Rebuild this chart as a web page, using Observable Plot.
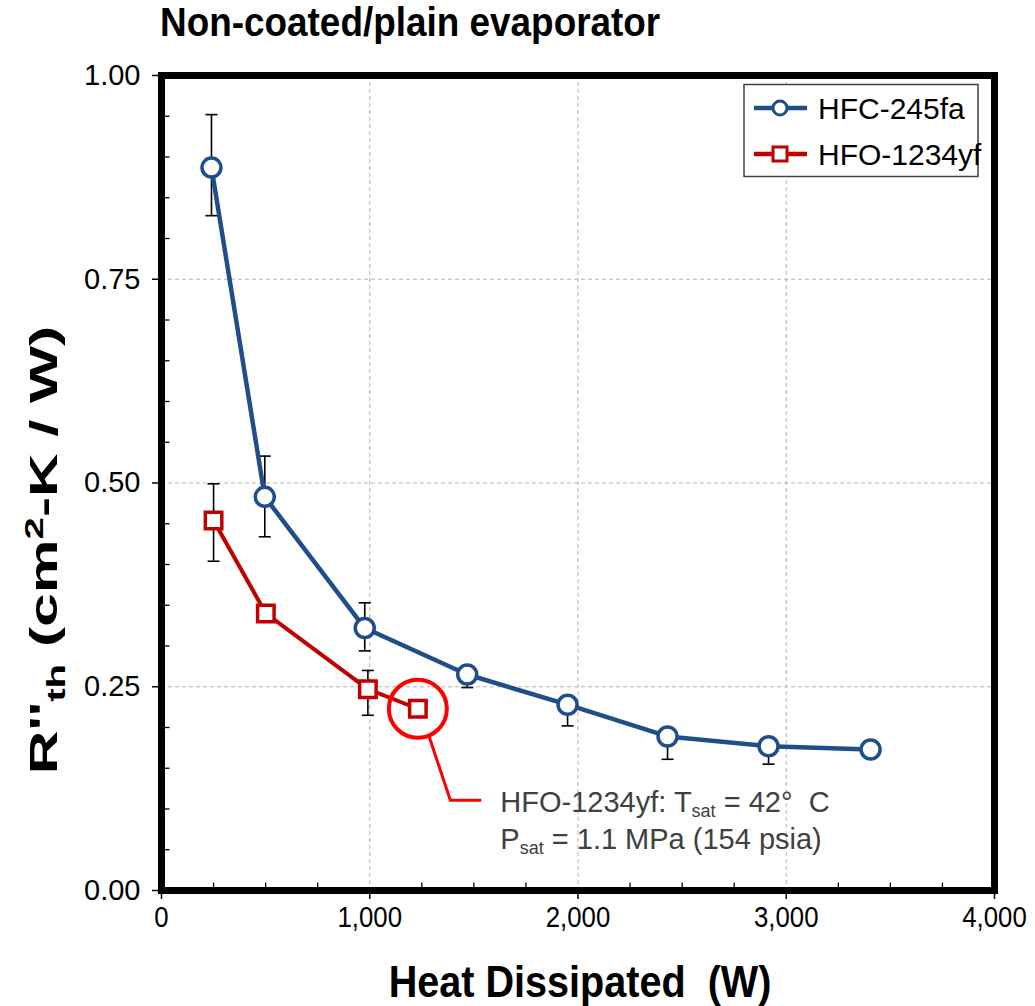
<!DOCTYPE html>
<html><head><meta charset="utf-8">
<script src="https://cdn.jsdelivr.net/npm/d3@7"></script>
<script src="https://cdn.jsdelivr.net/npm/@observablehq/plot@0.6"></script>
<style>
body{margin:0;background:#fff;font-family:"Liberation Sans",Arial,sans-serif;}
#wrap{position:relative;width:1035px;height:1006px;overflow:hidden;}
#chart{position:absolute;left:0;top:0;}
</style></head><body>
<div id="wrap"><div id="chart"></div></div>
<script>
// ---- data ----
const titleText = "Non-coated/plain evaporator";
const xTitle = "Heat Dissipated  (W)";
const seriesNames = ["HFC-245fa", "HFO-1234yf"];
const heat245 = [240, 496, 976, 1468, 1950, 2430, 2915, 3405];
const r245    = [0.887, 0.483, 0.322, 0.265, 0.228, 0.189, 0.177, 0.173];
const r245Lo  = [0.828, 0.434, 0.294, 0.249, 0.202, 0.161, 0.155, null];
const r245Hi  = [0.952, 0.533, 0.353, null, null, null, null, null];
const heat1234 = [250, 501, 991, 1231];
const r1234    = [0.454, 0.340, 0.247, 0.223];
const r1234Lo  = [0.404, null, 0.215, null];
const r1234Hi  = [0.499, null, 0.270, null];
const xTicks = [0, 1000, 2000, 3000, 4000];
const yTicks = [0, 0.25, 0.5, 0.75, 1.0];
const xMinor = [250, 500, 750, 1250, 1500, 1750, 2250, 2500, 2750, 3250, 3500, 3750];
const yMinor = [0.05,0.10,0.15,0.20,0.30,0.35,0.40,0.45,0.55,0.60,0.65,0.70,0.80,0.85,0.90,0.95];
const annoLine1 = ["HFO-1234yf: T", "sat", " = 42°  C"];
const annoLine2 = ["P", "sat", " = 1.1 MPa (154 psia)"];

const BLUE = "#1f4e89", RED = "#c00000";
const rows245 = heat245.map((x, i) => ({x, y: r245[i], lo: r245Lo[i], hi: r245Hi[i]}));
const rows1234 = heat1234.map((x, i) => ({x, y: r1234[i], lo: r1234Lo[i], hi: r1234Hi[i]}));
const allRows = rows245.concat(rows1234);
const errRows = allRows.filter(d => d.lo != null || d.hi != null);
const cap = {draw(ctx) { ctx.moveTo(-6, 0); ctx.lineTo(6, 0); }};
const tickRight = {draw(ctx) { ctx.moveTo(0, 0); ctx.lineTo(8, 0); }};
const tickUp = {draw(ctx) { ctx.moveTo(0, 0); ctx.lineTo(0, -8); }};

const plot = Plot.plot({
  width: 1035, height: 1006,
  marginLeft: 161, marginRight: 41, marginTop: 75, marginBottom: 116,
  style: {fontFamily: '"Liberation Sans", Arial, sans-serif', background: "white", color: "black"},
  x: {domain: [0, 4000], label: null},
  y: {domain: [0, 1], label: null},
  marks: [
    Plot.gridX([1000, 2000, 3000], {stroke: "#b5b5b5", strokeOpacity: 1, strokeWidth: 1, strokeDasharray: "4,3"}),
    Plot.gridY([0.25, 0.5, 0.75], {stroke: "#b5b5b5", strokeOpacity: 1, strokeWidth: 1, strokeDasharray: "4,3"}),
    Plot.ruleX(errRows, {x: "x", y1: d => d.lo ?? d.y, y2: d => d.hi ?? d.y, stroke: "black", strokeWidth: 1.6}),
    Plot.dot(allRows.filter(d => d.lo != null), {x: "x", y: "lo", symbol: cap, stroke: "black", strokeWidth: 1.6, fill: "none", r: 6}),
    Plot.dot(allRows.filter(d => d.hi != null), {x: "x", y: "hi", symbol: cap, stroke: "black", strokeWidth: 1.6, fill: "none", r: 6}),
    Plot.line(rows245, {x: "x", y: "y", stroke: BLUE, strokeWidth: 4.5}),
    Plot.line(rows1234, {x: "x", y: "y", stroke: RED, strokeWidth: 4}),
    Plot.dot(rows245, {x: "x", y: "y", r: 9.5, fill: "white", stroke: BLUE, strokeWidth: 3.5}),
    Plot.dot(rows1234, {x: "x", y: "y", symbol: "square", r: 9.3, fill: "white", stroke: RED, strokeWidth: 3.5}),
    Plot.dot([rows1234[3]], {x: "x", y: "y", r: 29, fill: "none", stroke: "#ff0000", strokeWidth: 4}),
    // inward minor ticks
    Plot.dot(yMinor, {x: 0, y: d => d, symbol: tickRight, stroke: "black", strokeWidth: 1.3, fill: "none"}),
    Plot.dot(xMinor, {x: d => d, y: 0, symbol: tickUp, stroke: "black", strokeWidth: 1.3, fill: "none"}),
    Plot.axisY(yTicks, {tickSize: 9, tickPadding: 12, tickFormat: d3.format(".2f"), fontSize: 29, label: null, strokeWidth: 1.5}),
    Plot.axisX(xTicks, {tickSize: 9, tickPadding: 6, tickFormat: d3.format(","), fontSize: 30, label: null, strokeWidth: 1.5}),
    Plot.frame({stroke: "black", strokeWidth: 7})
  ]
});
document.getElementById("chart").appendChild(plot);

const svg = d3.select(plot);
const sx = plot.scale("x"), sy = plot.scale("y");
const FF = '"Liberation Sans", Arial, sans-serif';

// condense x tick labels horizontally
svg.selectAll('g[aria-label="x-axis tick label"] text').each(function() {
  const t = this.getAttribute("transform") || "";
  this.setAttribute("transform", t + " scale(0.86,1)");
});

// title
svg.append("text").attr("transform", "translate(160,36) scale(0.9,1)").attr("text-anchor", "start")
  .attr("font-size", 41).attr("font-weight", "bold").attr("font-family", FF).attr("fill", "black")
  .text(titleText);

// x-axis title
svg.append("text").attr("transform", "translate(580,997) scale(0.9,1)").attr("text-anchor", "middle")
  .attr("font-size", 44).attr("font-weight", "bold").attr("font-family", FF).attr("fill", "black")
  .text(xTitle);

// y-axis title
const yl = svg.append("text").attr("transform", "translate(57,550) rotate(-90) scale(1.55,1)").attr("text-anchor", "middle")
  .attr("font-size", 39).attr("font-weight", "bold").attr("font-family", FF).attr("fill", "black");
yl.append("tspan").text("R''");
yl.append("tspan").attr("font-size", 26).attr("dy", 8).text("th");
yl.append("tspan").attr("dy", -8).text(" (cm");
yl.append("tspan").attr("font-size", 26).attr("dy", -14).text("2");
yl.append("tspan").attr("dy", 14).text("-K / W)");

// legend
const lg = svg.append("g");
lg.append("rect").attr("x", 744).attr("y", 84.5).attr("width", 234).attr("height", 92)
  .attr("fill", "white").attr("stroke", "#404040").attr("stroke-width", 1.5);
const legendRows = [
  {name: seriesNames[0], color: BLUE, sym: "circle", y: 108},
  {name: seriesNames[1], color: RED, sym: "square", y: 154}
];
legendRows.forEach(r => {
  lg.append("line").attr("x1", 754).attr("x2", 807).attr("y1", r.y).attr("y2", r.y)
    .attr("stroke", r.color).attr("stroke-width", 4.5);
  if (r.sym === "circle") {
    lg.append("circle").attr("cx", 780).attr("cy", r.y).attr("r", 7).attr("fill", "white")
      .attr("stroke", r.color).attr("stroke-width", 3);
  } else {
    lg.append("rect").attr("x", 773).attr("y", r.y - 7).attr("width", 14).attr("height", 14)
      .attr("fill", "white").attr("stroke", r.color).attr("stroke-width", 3);
  }
  lg.append("text").attr("x", 818).attr("y", r.y).attr("dy", "0.36em").attr("font-size", 30)
    .attr("text-anchor", "start").attr("font-family", FF).attr("fill", "black").text(r.name);
});

// annotation
const px = sx.apply(rows1234[3].x), py = sy.apply(rows1234[3].y);
svg.append("path").attr("d", `M${px + 12},${py + 29}L${px + 33},${py + 92}L${px + 64},${py + 92}`)
  .attr("fill", "none").attr("stroke", "#ff0000").attr("stroke-width", 3);
function annoText(parts, yy) {
  const t = svg.append("text").attr("x", px + 83).attr("y", yy).attr("font-size", 29)
    .attr("text-anchor", "start").attr("font-family", FF).attr("fill", "#404040");
  t.append("tspan").text(parts[0]);
  t.append("tspan").attr("font-size", 18).attr("dy", 5).text(parts[1]);
  t.append("tspan").attr("dy", -5).text(parts[2]);
}
annoText(annoLine1, py + 104);
annoText(annoLine2, py + 141);
</script>
</body></html>
